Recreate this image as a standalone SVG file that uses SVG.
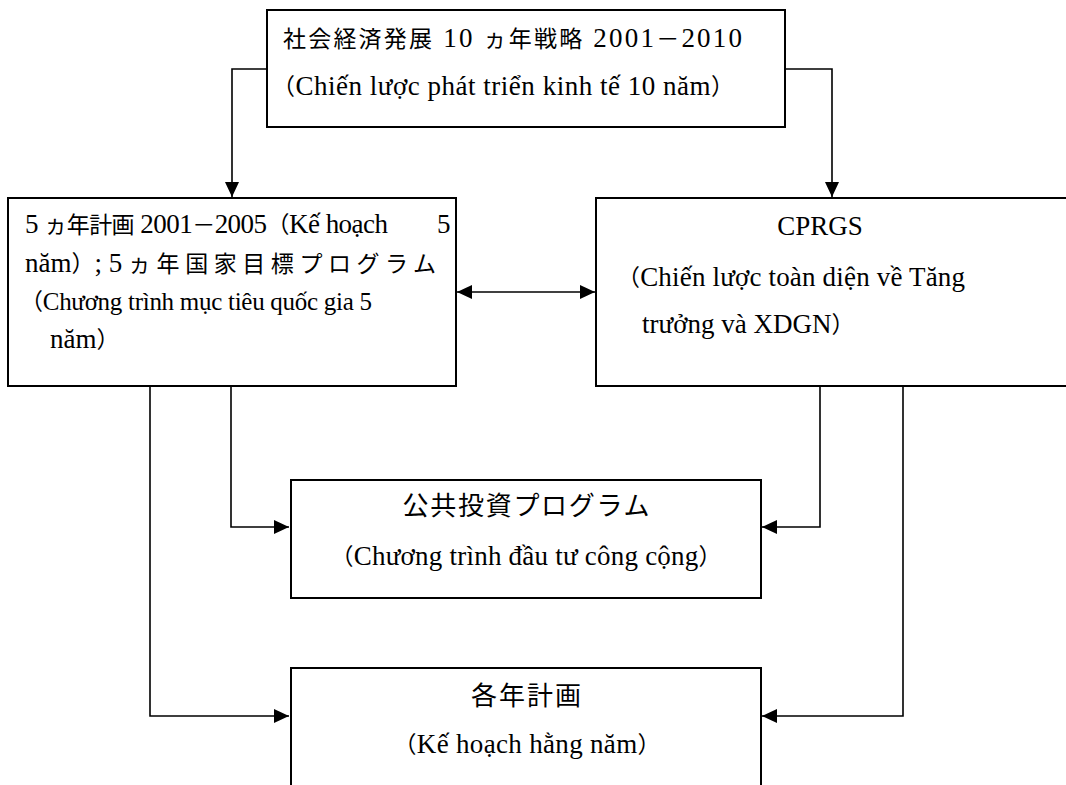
<svg xmlns="http://www.w3.org/2000/svg" width="1066" height="785" viewBox="0 0 1066 785">
<style>
.box{fill:#fff;stroke:#000;stroke-width:2}
.t{font-family:"Liberation Serif","Times New Roman","Noto Sans CJK JP",serif;font-size:27px;fill:#000}
.s{font-size:25px}
.j{font-family:"Noto Sans CJK JP","Liberation Serif",sans-serif;font-size:23px}
.J{font-family:"Noto Sans CJK JP","Liberation Serif",sans-serif;font-size:26px}
.c{text-anchor:middle}
.ln{fill:none;stroke:#000;stroke-width:1.6}
</style>
<defs>
<marker id="ah" markerUnits="userSpaceOnUse" markerWidth="16" markerHeight="15" refX="15" refY="7" orient="auto-start-reverse">
<path d="M0,0 L15,7 L0,14 Z" fill="#000"/>
</marker>
</defs>
<rect width="1066" height="785" fill="#fff"/>
<g id="connectors">
<path class="ln" d="M267,69 H232 V197" marker-end="url(#ah)"/>
<path class="ln" d="M785,69 H832 V197" marker-end="url(#ah)"/>
<path class="ln" d="M457,292 H595" marker-start="url(#ah)" marker-end="url(#ah)"/>
<path class="ln" d="M231,387 V527 H289" marker-end="url(#ah)"/>
<path class="ln" d="M150,387 V716 H289" marker-end="url(#ah)"/>
<path class="ln" d="M820,387 V527 H762" marker-end="url(#ah)"/>
<path class="ln" d="M903,387 V716 H762" marker-end="url(#ah)"/>
</g>
<g id="node-strategy">
<rect class="box" x="267" y="10" width="518" height="117"/>
<text class="t" x="283" y="47" textLength="459"><tspan class="j">社会経済発展</tspan> 10 <tspan class="j">ヵ年戦略</tspan> 2001<tspan class="j">－</tspan>2010</text>
<text class="t" x="272" y="95" textLength="462"><tspan class="j">（</tspan>Chiến lược phát triển kinh tế 10 năm<tspan class="j">）</tspan></text>
</g>
<g id="node-5year">
<rect class="box" x="8" y="198" width="448" height="188"/>
<text class="t" x="25" y="233" textLength="363">5 <tspan class="j">ヵ年計画</tspan> 2001<tspan class="j">－</tspan>2005<tspan class="j">（</tspan>Kế hoạch</text>
<text class="t" x="437" y="233">5</text>
<text class="t" x="25" y="272">năm<tspan class="j">）</tspan>; 5</text>
<text class="t" x="128" y="272" textLength="308"><tspan class="j">ヵ年国家目標プログラム</tspan></text>
<text class="t s" x="20" y="310" textLength="352"><tspan class="j">（</tspan>Chương trình mục tiêu quốc gia 5</text>
<text class="t" x="50" y="348">năm<tspan class="j">）</tspan></text>
</g>
<g id="node-cprgs">
<rect class="box" x="596" y="198" width="490" height="188"/>
<text class="t c" x="820" y="235">CPRGS</text>
<text class="t" x="617" y="286" textLength="348"><tspan class="j">（</tspan>Chiến lược toàn diện về Tăng</text>
<text class="t" x="642" y="333">trưởng và XDGN<tspan class="j">）</tspan></text>
</g>
<g id="node-pip">
<rect class="box" x="291" y="480" width="470" height="118"/>
<text class="t c" x="526" y="515" textLength="247"><tspan class="J">公共投資プログラム</tspan></text>
<text class="t c" x="526" y="565" textLength="391"><tspan class="j">（</tspan>Chương trình đầu tư công cộng<tspan class="j">）</tspan></text>
</g>
<g id="node-annual">
<rect class="box" x="291" y="668" width="470" height="140"/>
<text class="t c" x="526" y="705" textLength="110"><tspan class="J">各年計画</tspan></text>
<text class="t c" x="527" y="753" textLength="267"><tspan class="j">（</tspan>Kế hoạch hằng năm<tspan class="j">）</tspan></text>
</g>
</svg>
